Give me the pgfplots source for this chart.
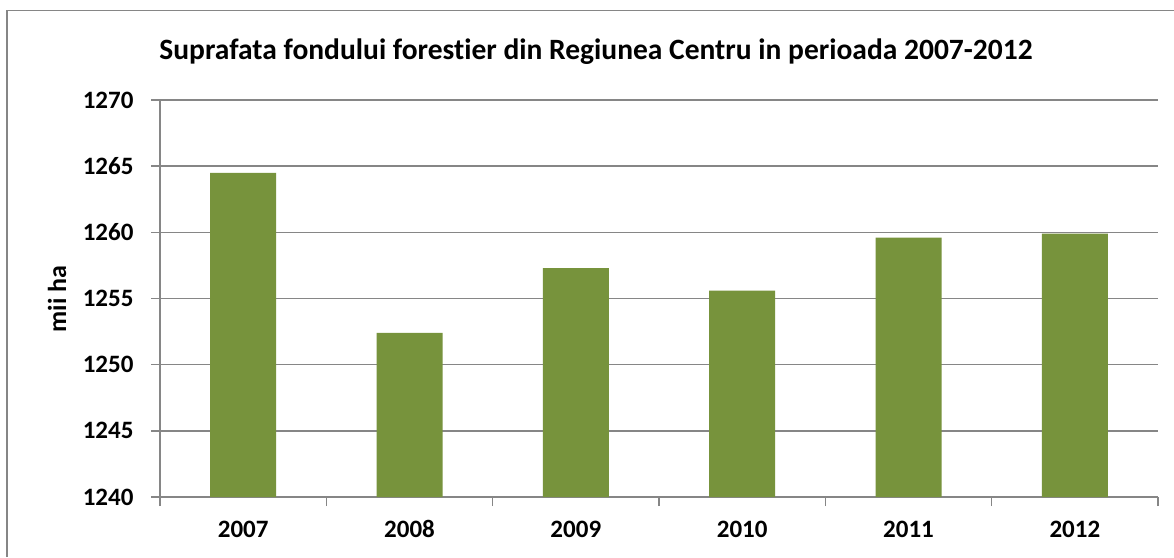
\documentclass[border=0pt]{standalone}
\usepackage{fontspec}
\setmainfont{Carlito}[Ligatures={NoCommon}]
\usepackage{pgfplots}
\pgfplotsset{compat=1.18}
\definecolor{barc}{HTML}{77933C}
\definecolor{axc}{HTML}{868686}
\begin{document}
\begin{tikzpicture}[x=1pt,y=1pt]
\useasboundingbox (0,0) rectangle (1174,557);
\fill[white] (0,0) rectangle (1174,557);
\draw[axc, line width=1.6pt] (7,0) -- (7,546.5) -- (1174,546.5);
\node[font=\fontsize{29.5}{34}\selectfont\bfseries] at (596,505) {Suprafata fondului forestier din Regiunea Centru in perioada 2007-2012};
\node[font=\fontsize{26}{30}\selectfont\bfseries, rotate=90] at (57,258) {mii ha};
\begin{axis}[
  at={(160pt,60pt)}, anchor=south west,
  scale only axis, width=998pt, height=397pt,
  xmin=-0.5, xmax=5.5, ymin=1240, ymax=1270,
  ytick={1240,1245,...,1270},
  xtick={-0.5,0.5,...,5.5},
  xticklabels={2007,2008,2009,2010,2011,2012},
  x tick label as interval,
  axis lines*=left,
  axis line style={axc, line width=1.6pt, -},
  tick style={axc, line width=1.6pt},
  major tick length=9pt,
  tick align=outside,
  ymajorgrids,
  grid style={axc, line width=1.6pt},
  tick label style={font=\fontsize{25}{30}\selectfont\bfseries},
  yticklabel style={xshift=-14pt},
  xticklabel style={anchor=base, text depth=0pt, yshift=-31pt},
  /pgf/number format/assume math mode=true,
  /pgf/number format/1000 sep={},
  ybar, bar width=66pt,
]
\addplot[fill=barc, draw=none] coordinates {(0,1264.5) (1,1252.4) (2,1257.3) (3,1255.6) (4,1259.6) (5,1259.9)};
\end{axis}
\end{tikzpicture}
\end{document}
